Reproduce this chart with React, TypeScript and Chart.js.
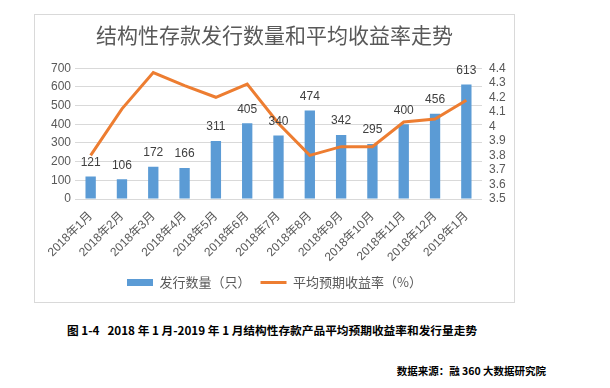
import React, { useEffect, useRef } from "react";
import { Chart, registerables } from "chart.js";

Chart.register(...registerables);

const categories = [
  "2018年1月", "2018年2月", "2018年3月", "2018年4月", "2018年5月", "2018年6月",
  "2018年7月", "2018年8月", "2018年9月", "2018年10月", "2018年11月", "2018年12月", "2019年1月",
];
const issueCounts = [121, 106, 172, 166, 311, 405, 340, 474, 342, 295, 400, 456, 613];
const avgYield = [3.8, 4.12, 4.37, 4.28, 4.2, 4.29, 4.02, 3.8, 3.86, 3.86, 4.03, 4.05, 4.18];
const leftTicks = [0, 100, 200, 300, 400, 500, 600, 700];
const rightTicks = [3.5, 3.6, 3.7, 3.8, 3.9, 4, 4.1, 4.2, 4.3, 4.4];

const FONT = '"Liberation Sans", "Noto Sans CJK SC", sans-serif';
const CJK = '"Noto Sans CJK SC", "Liberation Sans", sans-serif';
const GRAY = "#595959";

const barLabels = {
  id: "barLabels",
  afterDatasetsDraw(chart: any) {
    const meta = chart.getDatasetMeta(0);
    const ctx = chart.ctx;
    ctx.save();
    ctx.font = `12px ${FONT}`;
    ctx.fillStyle = "#404040";
    ctx.textAlign = "center";
    ctx.textBaseline = "middle";
    meta.data.forEach((el: any, i: number) => {
      ctx.fillText(String(issueCounts[i]), el.x, el.y - 14);
    });
    ctx.restore();
  },
};

export default function App() {
  const ref = useRef<HTMLCanvasElement>(null);
  useEffect(() => {
    if (!ref.current) return;
    const chart = new Chart(ref.current, {
      type: "bar",
      data: {
        labels: categories,
        datasets: [
          {
            type: "bar",
            label: "发行数量（只）",
            data: issueCounts,
            backgroundColor: "#5B9BD5",
            borderWidth: 0,
            barPercentage: 0.33,
            categoryPercentage: 1,
            yAxisID: "y",
            order: 1,
            pointStyle: "rect",
          } as any,
          {
            type: "line",
            label: "平均预期收益率（%）",
            data: avgYield,
            borderColor: "#ED7D31",
            backgroundColor: "#ED7D31",
            borderWidth: 3,
            pointRadius: 0,
            tension: 0,
            yAxisID: "y1",
            order: 0,
            pointStyle: "line",
          } as any,
        ],
      },
      options: {
        responsive: false,
        animation: false,
        devicePixelRatio: 1,
        layout: { padding: { left: 0, right: 0, top: 0, bottom: 3 } },
        plugins: {
          tooltip: { enabled: false },
          title: {
            display: true,
            text: "结构性存款发行数量和平均收益率走势",
            color: GRAY,
            font: { family: CJK, size: 21, weight: "normal" },
            padding: { top: 7, bottom: 21 },
          },
          legend: {
            position: "bottom",
            labels: {
              color: GRAY,
              font: { family: CJK, size: 13 },
              usePointStyle: true,
              pointStyleWidth: 26,
              boxHeight: 7,
              padding: 10,
              sort: (a: any, b: any) => a.datasetIndex - b.datasetIndex,
            },
          },
        },
        scales: {
          x: {
            grid: { display: false },
            border: { display: false },
            ticks: {
              color: GRAY,
              font: { family: FONT, size: 12 },
              minRotation: 45,
              maxRotation: 45,
              autoSkip: false,
              padding: 2,
            },
            afterFit(scale: any) {
              scale.height = 67;
            },
          },
          y: {
            position: "left",
            min: leftTicks[0],
            max: leftTicks[leftTicks.length - 1],
            afterBuildTicks(scale: any) {
              scale.ticks = leftTicks.map((v) => ({ value: v }));
            },
            ticks: {
              autoSkip: false,
              color: GRAY,
              font: { family: FONT, size: 12 },
              padding: 4,
            },
            grid: { color: "#d9d9d9", drawTicks: false },
            border: { display: false },
            afterFit(scale: any) {
              scale.width = 40;
            },
          },
          y1: {
            position: "right",
            min: rightTicks[0],
            max: rightTicks[rightTicks.length - 1],
            afterBuildTicks(scale: any) {
              scale.ticks = rightTicks.map((v) => ({ value: v }));
            },
            ticks: {
              autoSkip: false,
              color: GRAY,
              font: { family: FONT, size: 12 },
              padding: 7,
              callback: (v: any) => String(Math.round(Number(v) * 10) / 10),
            },
            grid: { display: false, drawTicks: false },
            border: { display: false },
            afterFit(scale: any) {
              scale.width = 32;
            },
          },
        },
      } as any,
      plugins: [barLabels],
    });
    return () => chart.destroy();
  }, []);

  return (
    <div style={{ position: "absolute", left: 0, top: 0, width: 610, height: 388, background: "#fff" }}>
      <div
        style={{
          position: "absolute",
          left: 34,
          top: 14,
          width: 479,
          height: 287,
          border: "1px solid #d9d9d9",
        }}
      >
        <canvas ref={ref} width={479} height={287} style={{ display: "block", width: 479, height: 287 }} />
      </div>
      <div
        style={{
          position: "absolute",
          left: 67,
          top: 322,
          fontFamily: CJK,
          fontSize: 11.7,
          lineHeight: "16px",
          fontWeight: "bold",
          color: "#000",
          whiteSpace: "pre",
        }}
      >
        {"图 1-4   2018 年 1 月-2019 年 1 月结构性存款产品平均预期收益率和发行量走势"}
      </div>
      <div
        style={{
          position: "absolute",
          right: 64,
          top: 363,
          fontFamily: CJK,
          fontSize: 10.5,
          lineHeight: "16px",
          fontWeight: "bold",
          color: "#000",
          whiteSpace: "pre",
        }}
      >
        {"数据来源：融 360 大数据研究院"}
      </div>
    </div>
  );
}
